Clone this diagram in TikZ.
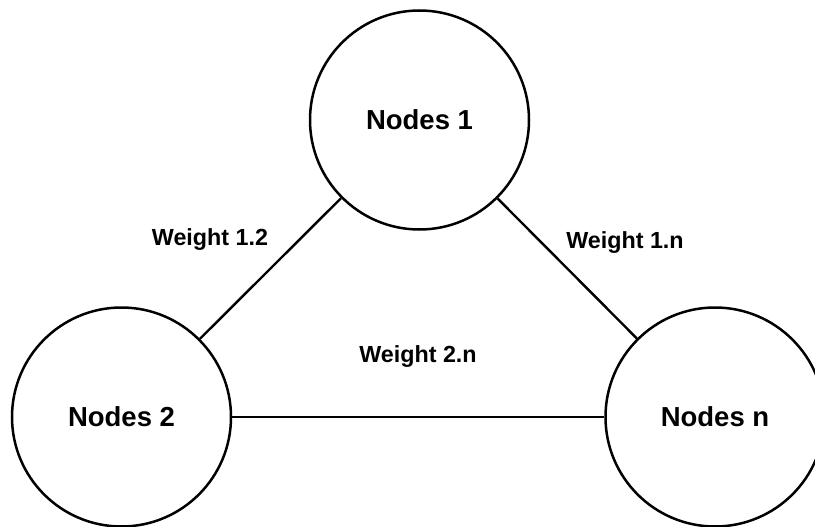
\documentclass[tikz,border=0pt]{standalone}
\usepackage{fontspec}
\setmainfont{Liberation Sans}
\begin{document}
\begin{tikzpicture}[x=1pt,y=-1pt,
  netnode/.style={circle,draw,line width=2.5pt,minimum size=219pt,inner sep=0pt,fill=white,
    font=\fontsize{27.5}{31}\selectfont\bfseries},
  weightlbl/.style={inner sep=0pt,font=\fontsize{23.3}{27}\selectfont\bfseries},
  link/.style={line width=2.4pt}]
\useasboundingbox[fill=white] (0,0) rectangle (815,527);
\node[netnode] (n1) at (419.5,120) {Nodes 1};
\node[netnode] (n2) at (121.5,417) {Nodes 2};
\node[netnode] (nn) at (715,417) {Nodes n};
\draw[link] (n1) -- (n2);
\draw[link] (n1) -- (nn);
\draw[link] (n2) -- (nn);
\node[weightlbl] (w12) at (210,240) {Weight 1.2};
\node[weightlbl] (w1n) at (625,243) {Weight 1.n};
\node[weightlbl] (w2n) at (418,357) {Weight 2.n};
\end{tikzpicture}
\end{document}
